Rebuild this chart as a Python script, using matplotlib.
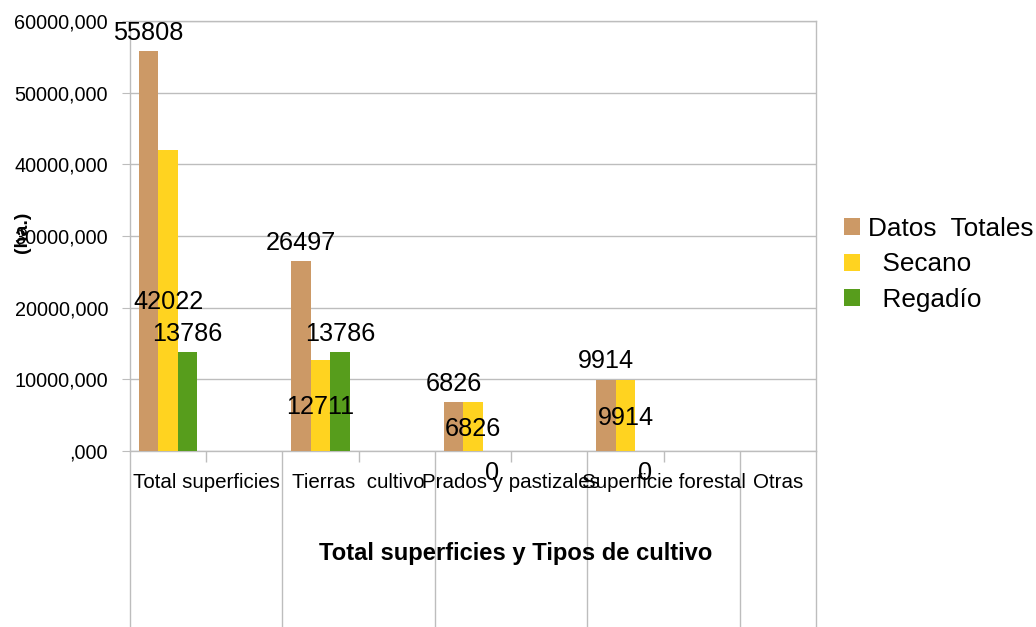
import numpy as np
import matplotlib
matplotlib.use("Agg")
import matplotlib.pyplot as plt
from matplotlib.patches import Patch
from matplotlib.transforms import offset_copy

plt.rcParams['font.family'] = ['Liberation Sans', 'DejaVu Sans']

categories = ["Total superficies", "Tierras  cultivo", "Prados y pastizales",
              "Superficie forestal", "Otras"]
datos_totales = [55808, 26497, 6826, 9914, np.nan]
secano = [42022, 12711, 6826, 9914, np.nan]
regadio = [13786, 13786, 0, 0, np.nan]
series_names = ["Datos  Totales", "  Secano", "  Regadío"]
colors = ["#CC9966", "#FFD320", "#579D1C"]
y_ticks = [0, 10000, 20000, 30000, 40000, 50000, 60000]
y_tick_labels = [",000", "10000,000", "20000,000", "30000,000",
                 "40000,000", "50000,000", "60000,000"]
x_title = "Total superficies y Tipos de cultivo"
y_title = "(ha.)"

W, H = 1036, 627
fig = plt.figure(figsize=(W / 100, H / 100), dpi=100)
ax = fig.add_axes([130 / W, 176 / H, 686 / W, 430 / H])

grid_c = "#bdbdbd"
n = len(categories)
pos = np.arange(n) * 2 + 0.5
bw = 0.256
offsets = [-bw, 0, bw]
all_series = [datos_totales, secano, regadio]

for vals, off, col in zip(all_series, offsets, colors):
    ax.bar(pos + off, np.nan_to_num(vals), width=bw, color=col, zorder=3,
           linewidth=0)

ax.set_xlim(0, 2 * n - 1)
ax.set_ylim(0, 60000)
ax.set_axisbelow(True)
ax.yaxis.grid(True, color=grid_c, linewidth=1)
for s in ax.spines.values():
    s.set_color(grid_c)
    s.set_linewidth(1)

ax.set_yticks(y_ticks)
ax.set_yticklabels(y_tick_labels)
ax.tick_params(axis='y', length=5.8, color=grid_c, pad=10, labelsize=14.3)

major_x = list(np.arange(0, 2 * n - 1, 2)) + [2 * n - 1]
minor_x = list(np.arange(1, 2 * n - 2, 2))
ax.set_xticks(major_x)
ax.set_xticks(minor_x, minor=True)
ax.tick_params(axis='x', which='major', length=126.7, color=grid_c,
               labelbottom=False, width=1)
ax.tick_params(axis='x', which='minor', length=7.9, color=grid_c,
               labelbottom=False, width=1)

# category labels
xt = ax.get_xaxis_transform()
label_x = np.minimum(pos + 0.5, 2 * n - 1.5)
for lx, cat in zip(label_x, categories):
    ax.text(lx, -37 / 430, cat, transform=xt, ha='center', va='baseline',
            fontsize=14.8, clip_on=False)

# value labels
def put(x, y, txt, dy_pt):
    tr = offset_copy(ax.transData, fig=fig, x=0, y=dy_pt, units='points')
    ax.text(x, y, txt, transform=tr, ha='center', va='baseline',
            fontsize=18.2, clip_on=False, zorder=5)

for i in range(n):
    v = datos_totales[i]
    if not np.isnan(v):
        put(pos[i] + offsets[0], v, f"{v:.0f}", 8.3)
    v = secano[i]
    if not np.isnan(v):
        put(pos[i] + offsets[1], v / 2, f"{v:.0f}", -6.5)
    v = regadio[i]
    if not np.isnan(v):
        if v > 0:
            put(pos[i] + offsets[2], v, f"{v:.0f}", 8.3)
        else:
            put(pos[i] + offsets[2], v, f"{v:.0f}", -20.9)

fig.text(516 / W, 1 - 560 / H, x_title, ha='center', va='baseline',
         fontsize=17.1, fontweight='bold')
fig.text(23 / W, 1 - 232 / H, y_title, ha='center', va='center',
         rotation=90, fontsize=14, fontweight='bold')

handles = [Patch(facecolor=c, edgecolor='none') for c in colors]
fig.legend(handles, series_names, loc='upper left',
           bbox_to_anchor=(844 / W, 1 - 217 / H), frameon=False,
           fontsize=18.8, handlelength=0.62, handleheight=0.62,
           handletextpad=0.3, labelspacing=0.44, borderaxespad=0,
           borderpad=0)

fig.savefig("out.png", dpi=100)
